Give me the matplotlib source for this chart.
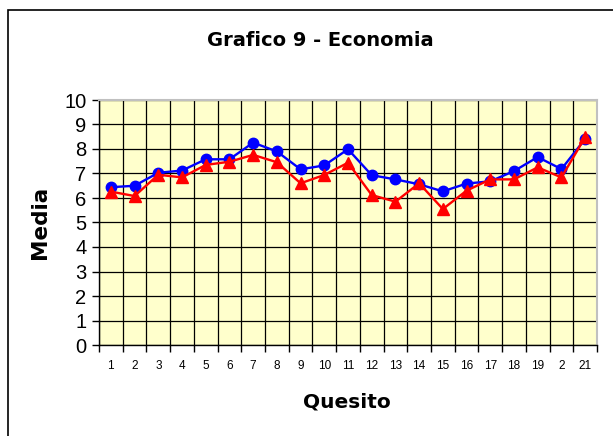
import matplotlib
matplotlib.use("Agg")
import matplotlib.pyplot as plt
from matplotlib.patches import Rectangle
import numpy as np

quesiti = list(range(1, 22))
tick_labels = ["1", "2", "3", "4", "5", "6", "7", "8", "9", "10", "11",
               "12", "13", "14", "15", "16", "17", "18", "19", "2", "21"]
media_a = [6.44, 6.50, 7.03, 7.12, 7.58, 7.58, 8.26, 7.90, 7.17, 7.33, 7.99,
           6.93, 6.76, 6.56, 6.27, 6.59, 6.68, 7.10, 7.67, 7.18, 8.41]
media_b = [6.26, 6.08, 6.95, 6.84, 7.35, 7.48, 7.76, 7.46, 6.60, 6.94, 7.44,
           6.12, 5.85, 6.60, 5.55, 6.30, 6.76, 6.76, 7.25, 6.84, 8.48]

W, H = 613, 436
fig = plt.figure(figsize=(W / 100, H / 100), dpi=100)
fig.patch.set_facecolor("white")

# outer chart frame
fig.add_artist(Rectangle((8 / W, -0.1), 1.1, (H - 10) / H + 0.1,
                         transform=fig.transFigure, fill=False,
                         edgecolor="black", lw=1.2))

ax = fig.add_axes([99 / W, (H - 345) / H, 498 / W, 245 / H])
ax.set_facecolor("#FFFFCC")

ax.plot(quesiti, media_a, color="#0000FF", lw=1.7, marker="o", ms=7.5,
        zorder=3, clip_on=False)
ax.plot(quesiti, media_b, color="#FF0000", lw=1.7, marker="^", ms=9,
        zorder=4, clip_on=False)

ax.set_xlim(0.5, 21.5)
ax.set_ylim(0, 10)

# tick marks on the category edges, labels in the middle
ax.set_xticks(quesiti)
ax.set_xticklabels(tick_labels, fontsize=8.5, family="Liberation Sans")
ax.set_xticks(np.arange(0.5, 22, 1), minor=True)
ax.tick_params(axis="x", which="major", length=0, pad=11)
ax.tick_params(axis="x", which="minor", length=5, width=1, color="black",
               direction="out")

ax.set_yticks(range(0, 11))
ax.set_yticklabels([str(v) for v in range(0, 11)], fontsize=14.5,
                   family="Liberation Sans")
ax.tick_params(axis="y", length=5, width=1, pad=4, direction="out")

ax.grid(True, axis="x", which="minor", color="black", lw=0.9, zorder=1)
ax.grid(True, axis="y", which="major", color="black", lw=0.9, zorder=1)
ax.set_axisbelow(True)

for side in ("top", "right"):
    ax.spines[side].set_color("#C0C0C0")
    ax.spines[side].set_linewidth(1.5)
for side in ("left", "bottom"):
    ax.spines[side].set_color("black")
    ax.spines[side].set_linewidth(1.0)

fig.text(320 / W, 1 - 40 / H, "Grafico 9 - Economia", ha="center",
         va="center", fontsize=14, fontweight="bold", family="DejaVu Sans")
fig.text(40 / W, 1 - 222 / H, "Media", ha="center", va="center",
         rotation=90, fontsize=15.5, fontweight="bold", family="DejaVu Sans")
fig.text(347 / W, 1 - 402 / H, "Quesito", ha="center", va="center",
         fontsize=14.5, fontweight="bold", family="DejaVu Sans")

fig.savefig("out.png", dpi=100)
